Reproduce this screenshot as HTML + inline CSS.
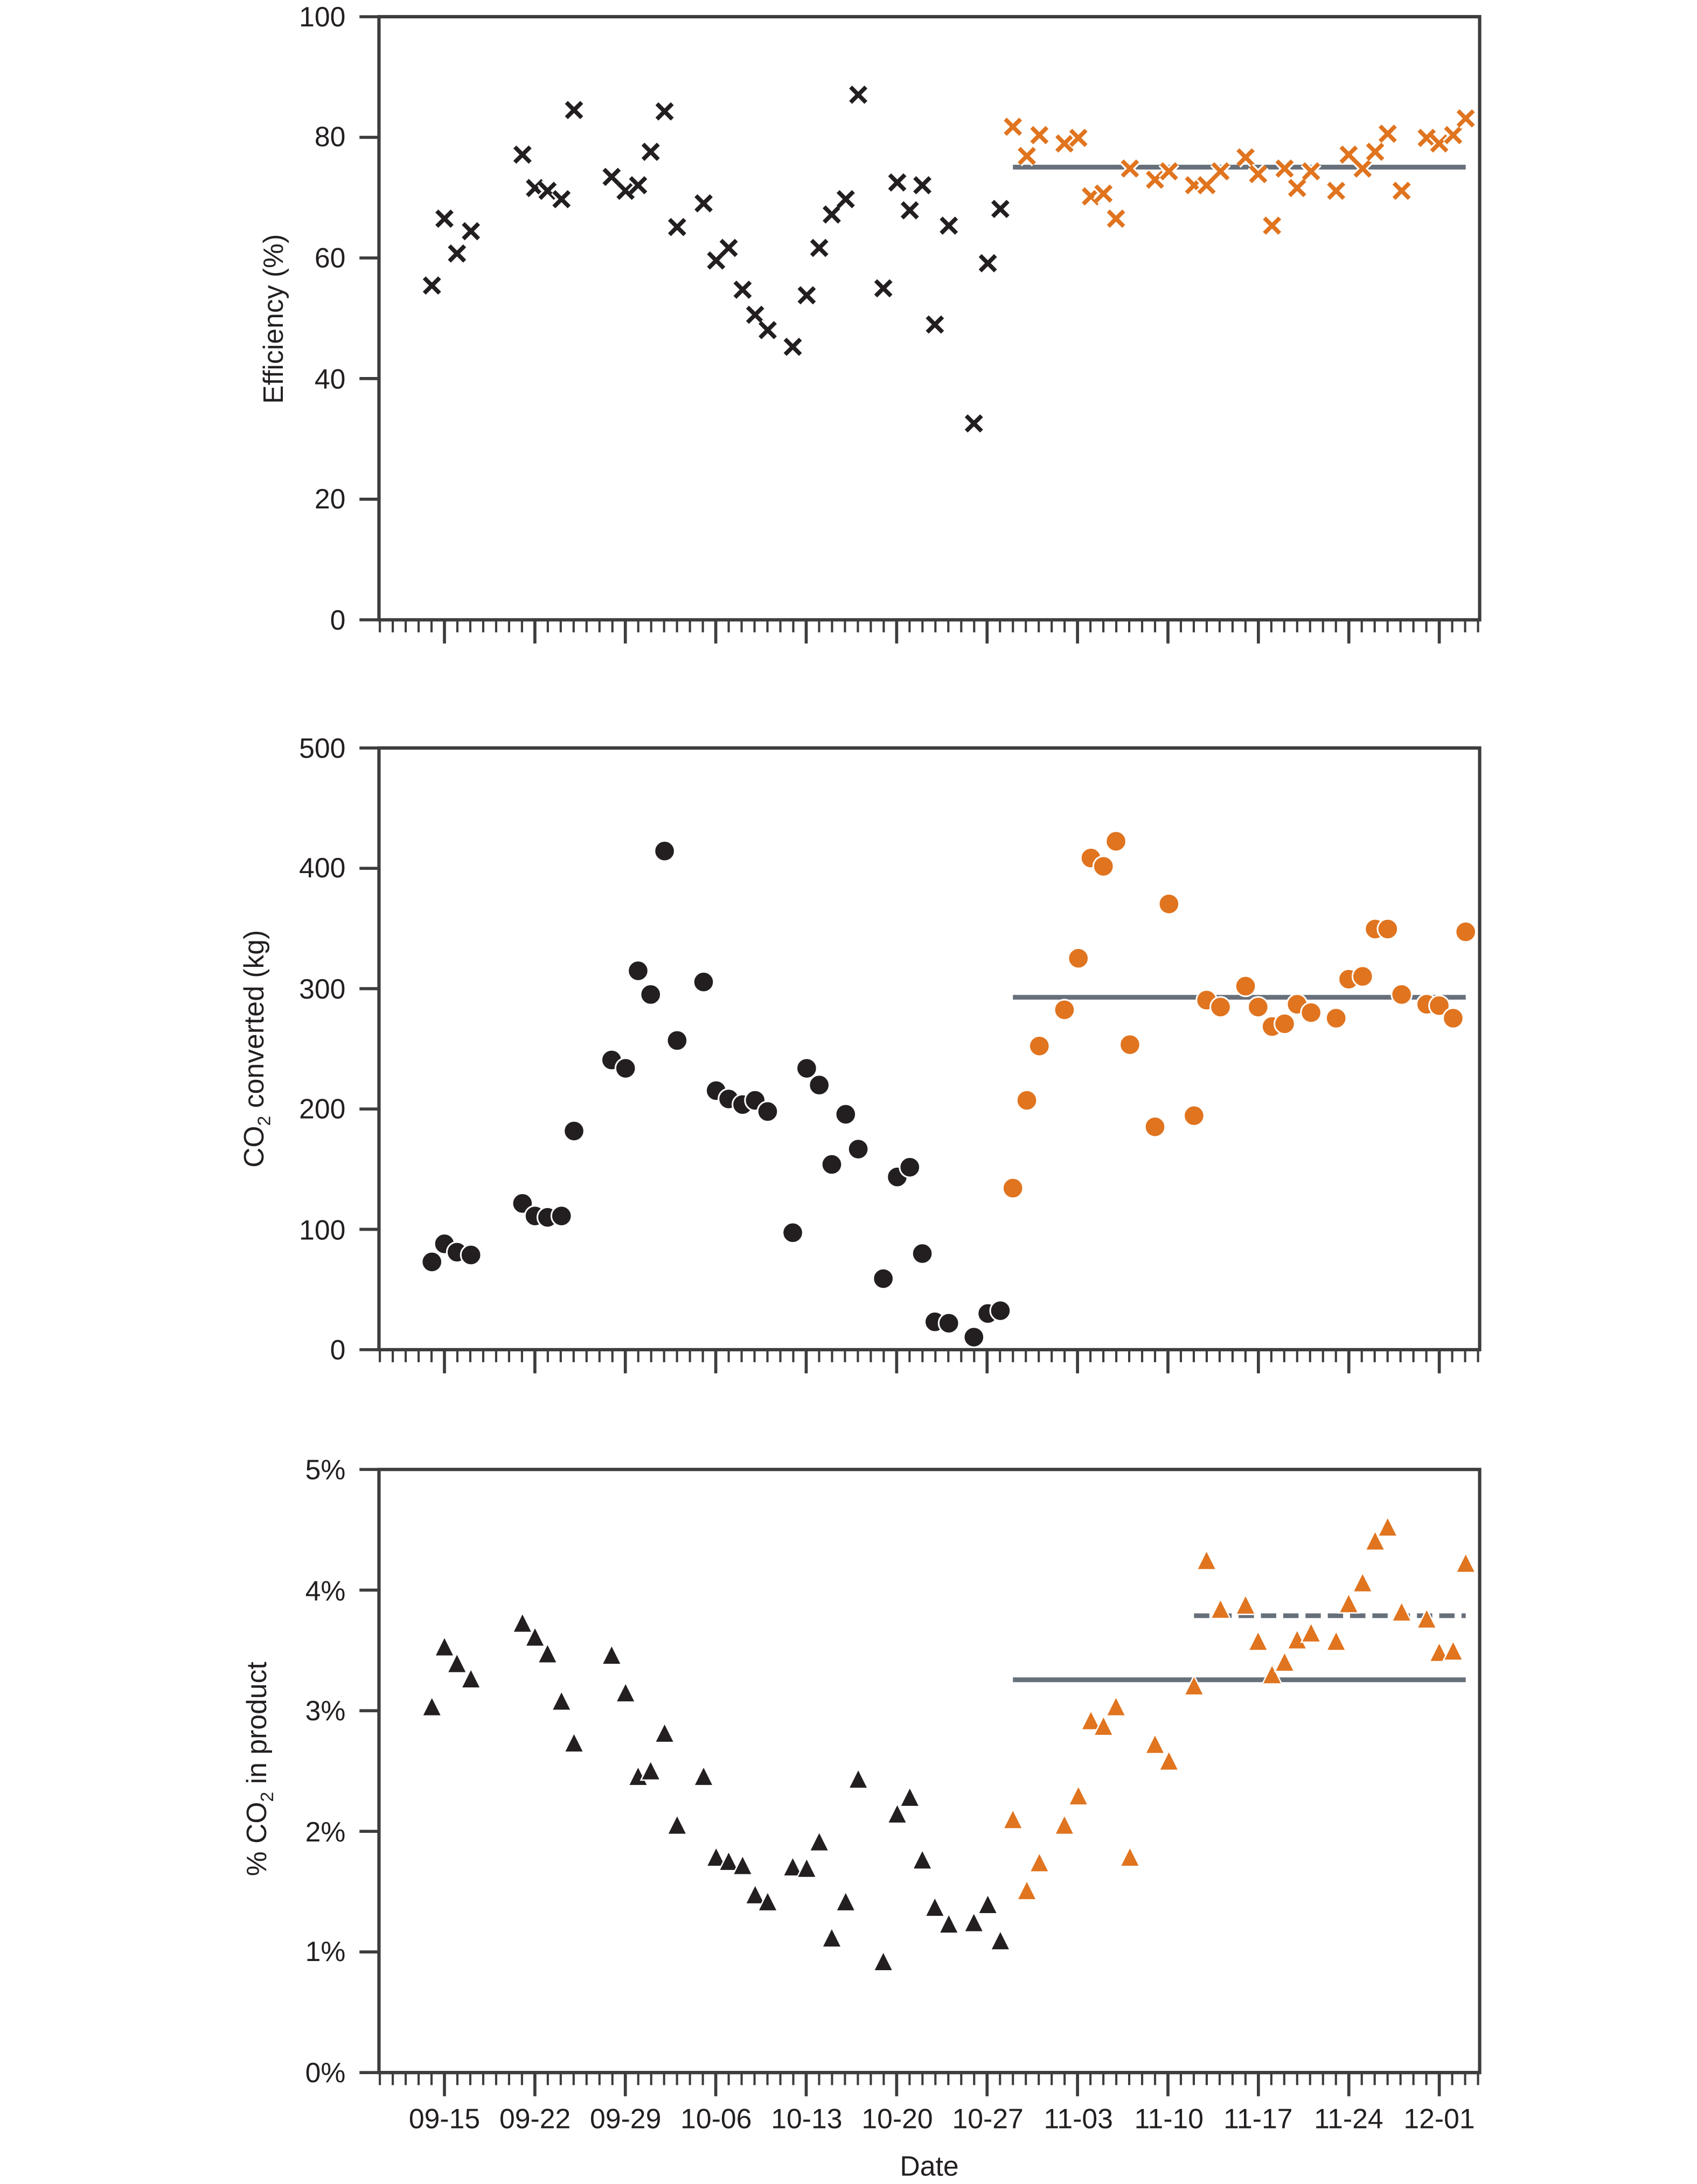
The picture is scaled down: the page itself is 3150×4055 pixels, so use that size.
<!DOCTYPE html>
<html><head><meta charset="utf-8"><style>
html,body{margin:0;padding:0;background:#fff}
svg{display:block}
text{font-family:"Liberation Sans",Arial,sans-serif;fill:#231f20}
</style></head><body>
<svg id="s" width="3150" height="4055" viewBox="0 0 1218 1568" preserveAspectRatio="none" xmlns="http://www.w3.org/2000/svg">
<rect width="1222" height="1573" fill="#fff"/>
<g id="g"></g>
<g font-size="20" text-anchor="end">
<text x="248" y="19">100</text><text x="248" y="105">80</text><text x="248" y="192">60</text><text x="248" y="279">40</text><text x="248" y="365">20</text><text x="248" y="452">0</text>
<text x="248" y="544">500</text><text x="248" y="630">400</text><text x="248" y="717">300</text><text x="248" y="803">200</text><text x="248" y="890">100</text><text x="248" y="976">0</text>
<text x="248" y="1062">5%</text><text x="248" y="1149">4%</text><text x="248" y="1235">3%</text><text x="248" y="1322">2%</text><text x="248" y="1408">1%</text><text x="248" y="1495">0%</text>
</g>
<g font-size="20" text-anchor="middle">
<text x="319" y="1528">09-15</text><text x="384" y="1528">09-22</text><text x="449" y="1528">09-29</text><text x="514" y="1528">10-06</text><text x="579" y="1528">10-13</text><text x="644" y="1528">10-20</text><text x="709" y="1528">10-27</text><text x="774" y="1528">11-03</text><text x="839" y="1528">11-10</text><text x="903" y="1528">11-17</text><text x="968" y="1528">11-24</text><text x="1033" y="1528">12-01</text>
<text x="667" y="1562">Date</text>
<text transform="translate(203,229) rotate(-90)">Efficiency (%)</text>
<text transform="translate(189,753) rotate(-90)">CO<tspan font-size="13" dy="5">2</tspan><tspan dy="-5"> converted (kg)</tspan></text>
<text transform="translate(191,1270) rotate(-90)">% CO<tspan font-size="13" dy="5">2</tspan><tspan dy="-5"> in product</tspan></text>
</g>
</svg>
<script>
var NS="http://www.w3.org/2000/svg",g=document.getElementById("g");
function el(t,a){var e=document.createElementNS(NS,t);for(var k in a)e.setAttribute(k,a[k]);g.appendChild(e);return e;}
var AX="#3d3d3d",OR="#e0741f",BK="#231f20",LN="#67707a";
var pd=9.273,x0=319;
function axes(top,bot){
 el("path",{d:"M272 "+top+"H1062V"+bot+"H272Z",fill:"none",stroke:AX,"stroke-width":2.4});
 for(var i=0;i<6;i++){var y=bot-(bot-top)*i/5;el("line",{x1:258,x2:272,y1:y,y2:y,stroke:AX,"stroke-width":2.2});}
 for(var d=-5;d<=80;d++){var x=x0+d*pd;var maj=(d%7==0&&d>=0&&d<=77);
  el("line",{x1:x,x2:x,y1:bot,y2:bot+(maj?17:9),stroke:AX,"stroke-width":maj?2.2:1.6});}
}
axes(12,445);axes(537,969);axes(1055,1488);
function X(x,y,c){var h=5.5;var d="M"+(x-h)+" "+(y-h)+"L"+(x+h)+" "+(y+h)+"M"+(x-h)+" "+(y+h)+"L"+(x+h)+" "+(y-h);
 el("path",{d:d,stroke:"#fff","stroke-width":5.5});
 el("path",{d:d,stroke:c,"stroke-width":3});}
function C(x,y,c){el("circle",{cx:x,cy:y,r:7.3,fill:c,stroke:"#fff","stroke-width":1.2});}
function T(x,y,c){el("path",{d:"M"+x+" "+(y-8)+"L"+(x+7)+" "+(y+6)+"L"+(x-7)+" "+(y+6)+"Z",fill:c,stroke:"#fff","stroke-width":1});}
function pts(s){return s.trim().split(/\s+/).map(function(p){return p.split(",").map(Number);});}
el("line",{x1:727,x2:1052,y1:120,y2:120,stroke:LN,"stroke-width":3.4});
pts("310,205 319,157 328,182 338,166 375,111 384,135 393,137 403,143 412,79 439,127 449,137 458,133 467,109 477,80 486,163 505,146 514,187 523,178 533,208 542,226 551,237 569,249 579,212 588,178 597,154 607,143 616,68 634,207 644,131 653,151 662,133 671,233 681,162 699,304 709,189 718,150").forEach(function(p){X(p[0],p[1],BK);});
pts("727,91 737,112 746,97 764,103 774,99 783,141 792,139 801,157 811,121 829,129 839,123 857,133 866,133 876,123 894,113 903,125 913,162 922,121 931,135 941,123 959,137 968,111 978,121 987,109 996,96 1006,137 1024,99 1033,103 1043,97 1052,85").forEach(function(p){X(p[0],p[1],OR);});
el("line",{x1:727,x2:1052,y1:716,y2:716,stroke:LN,"stroke-width":3.4});
pts("310,906 319,893 328,899 338,901 375,864 384,873 393,874 403,873 412,812 439,761 449,767 458,697 467,714 477,611 486,747 505,705 514,783 523,789 533,793 542,790 551,798 569,885 579,767 588,779 597,836 607,800 616,825 634,918 644,845 653,838 662,900 671,949 681,950 699,960 709,943 718,941").forEach(function(p){C(p[0],p[1],BK);});
pts("727,853 737,790 746,751 764,725 774,688 783,616 792,622 801,604 811,750 829,809 839,649 857,801 866,718 876,723 894,708 903,723 913,737 922,735 931,721 941,727 959,731 968,703 978,701 987,667 996,667 1006,714 1024,721 1033,722 1043,731 1052,669").forEach(function(p){C(p[0],p[1],OR);});
el("line",{x1:727,x2:1052,y1:1206,y2:1206,stroke:LN,"stroke-width":3.4});
el("line",{x1:857,x2:1052,y1:1160,y2:1160,stroke:LN,"stroke-width":3.4,"stroke-dasharray":"11,5"});
pts("310,1226 319,1183 328,1195 338,1206 375,1166 384,1176 393,1188 403,1222 412,1252 439,1189 449,1216 458,1276 467,1272 477,1245 486,1311 505,1276 514,1334 523,1337 533,1340 542,1361 551,1366 569,1341 579,1342 588,1323 597,1392 607,1366 616,1278 634,1409 644,1303 653,1291 662,1336 671,1370 681,1382 699,1381 709,1368 718,1394").forEach(function(p){T(p[0],p[1],BK);});
pts("727,1307 737,1358 746,1338 764,1311 774,1290 783,1236 792,1240 801,1226 811,1334 829,1253 839,1265 857,1211 866,1121 876,1156 894,1153 903,1179 913,1203 922,1194 931,1178 941,1173 959,1179 968,1152 978,1137 987,1107 996,1097 1006,1158 1024,1163 1033,1187 1043,1186 1052,1123").forEach(function(p){T(p[0],p[1],OR);});
</script>
</body></html>
